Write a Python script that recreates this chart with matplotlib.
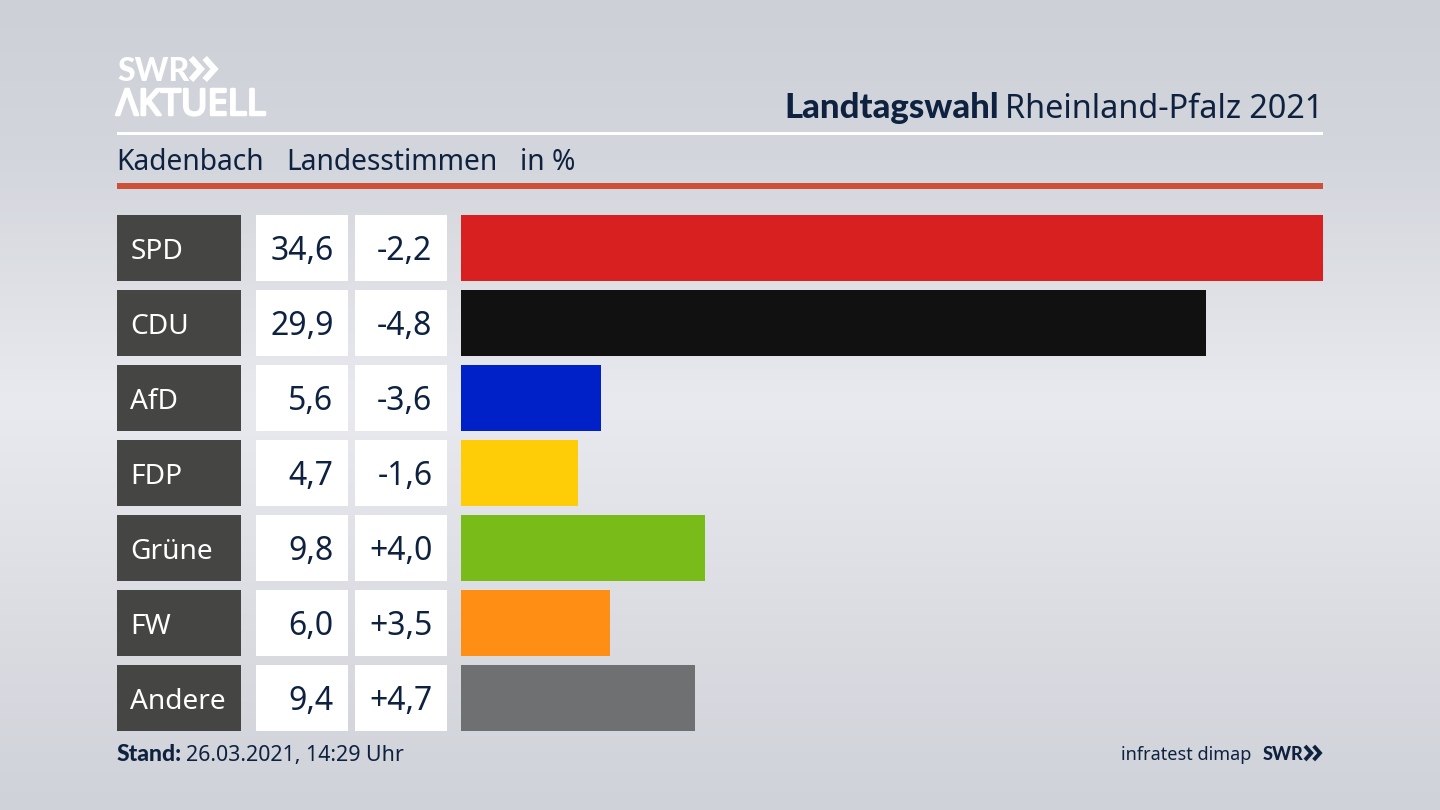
#!/usr/bin/env python3
"""Landtagswahl Rheinland-Pfalz 2021, Kadenbach: Landesstimmen in %."""
from __future__ import annotations

import matplotlib

matplotlib.use("Agg")
import matplotlib.patheffects as pe
import matplotlib.pyplot as plt
import numpy as np
from matplotlib.colors import LinearSegmentedColormap
from matplotlib.patches import Rectangle

parties = ["SPD", "CDU", "AfD", "FDP", "Grüne", "FW", "Andere"]
values = [34.6, 29.9, 5.6, 4.7, 9.8, 6.0, 9.4]
changes = [-2.2, -4.8, -3.6, -1.6, 4.0, 3.5, 4.7]
bar_colors = ["#d7201f", "#111111", "#0021c8", "#ffcd08", "#79bc1a", "#ff8e14", "#6f7071"]

NAVY = "#0e2240"
W, H = 1440, 810
TOP, PITCH, ROW_H = 215, 75, 66.4
BOLD = "Lato"

plt.rcParams["font.family"] = ["Noto Sans", "DejaVu Sans"]


def de(x, signed=False):
    s = f"{x:+.1f}" if signed else f"{x:.1f}"
    return s.replace(".", ",")


def chevrons(ax, x, y, size, color, lw):
    # the two arrows of the SWR logo, x/y = left end of the first one, bottom
    for dx in (0, size * 0.62):
        ax.plot(
            [x + dx, x + dx + size * 0.45, x + dx],
            [y, y - size / 2, y - size],
            color=color,
            lw=lw,
            solid_joinstyle="miter",
            solid_capstyle="butt",
        )


fig = plt.figure(figsize=(W / 100, H / 100), dpi=100)

# background and everything laid out in pixels
bg = fig.add_axes([0, 0, 1, 1])
cmap = LinearSegmentedColormap.from_list(
    "bg",
    [(0, "#cdd0d7"), (0.2, "#d3d6dc"), (0.5, "#e9eaef"), (0.8, "#d9dbe1"), (1, "#cfd2d8")],
)
bg.imshow(
    np.linspace(0, 1, 256)[:, np.newaxis],
    cmap=cmap,
    extent=(0, W, H, 0),
    aspect="auto",
    zorder=0,
)
bg.set_xlim(0, W)
bg.set_ylim(H, 0)
bg.axis("off")

# logo
bg.text(117, 81, "SWR", color="white", fontsize=23, family=BOLD, fontweight="black", va="baseline")
chevrons(bg, 191, 80, 22, "white", 4.4)
bg.text(
    116,
    115,
    "ΛKTUELL",
    color="white",
    fontsize=26.2,
    va="baseline",
    path_effects=[pe.withStroke(linewidth=1.8, foreground="white")],
)

# header
bg.text(784, 118, "Landtagswahl", color=NAVY, fontsize=25, family=BOLD, fontweight="black", va="baseline")
bg.text(1323, 118, "Rheinland-Pfalz 2021", color=NAVY, fontsize=23.3, ha="right", va="baseline")
bg.add_patch(Rectangle((117, 132), 1206, 3, color="white", lw=0))

bg.text(116, 170, "Kadenbach", color=NAVY, fontsize=20.3, va="baseline")
bg.text(286, 170, "Landesstimmen", color=NAVY, fontsize=20.3, va="baseline")
bg.text(520.5, 170, "in %", color=NAVY, fontsize=20.3, va="baseline")
bg.add_patch(Rectangle((117, 183), 1206, 6, color="#cd5138", lw=0))

# table columns left of the bars
for i, (party, value, change) in enumerate(zip(parties, values, changes)):
    y = TOP + i * PITCH
    bg.add_patch(Rectangle((117, y), 124, ROW_H, color="#454543", lw=0))
    bg.add_patch(Rectangle((256, y), 92, ROW_H, color="white", lw=0))
    bg.add_patch(Rectangle((355, y), 92, ROW_H, color="white", lw=0))
    base = y + 44
    bg.text(130.5, base, party, color="white", fontsize=20.2, va="baseline")
    bg.text(333.5, base + 1, de(value), color=NAVY, fontsize=23, ha="right", va="baseline")
    bg.text(432.5, base + 1, de(change, signed=True), color=NAVY, fontsize=23, ha="right", va="baseline")

# footer
bg.text(117, 761, "Stand:", color=NAVY, fontsize=16.5, family=BOLD, fontweight="black", va="baseline")
bg.text(186, 761, "26.03.2021, 14:29 Uhr", color=NAVY, fontsize=15.4, va="baseline")
bg.text(1251, 760, "infratest dimap", color=NAVY, fontsize=13, ha="right", va="baseline")
bg.text(1263, 760, "SWR", color=NAVY, fontsize=13, family=BOLD, fontweight="black", va="baseline")
chevrons(bg, 1305, 760, 14, NAVY, 2.8)

# bars
ax = fig.add_axes([461 / W, 1 - (TOP + 6 * PITCH + ROW_H) / H, (1323 - 461) / W, (6 * PITCH + ROW_H) / H])
ax.patch.set_alpha(0)
ax.barh(range(len(parties)), values, height=ROW_H / PITCH, color=bar_colors)
margin = ROW_H / PITCH / 2
ax.set_xlim(0, max(values))
ax.set_ylim(len(parties) - 1 + margin, -margin)
ax.axis("off")

fig.savefig("out.png", dpi=100)
